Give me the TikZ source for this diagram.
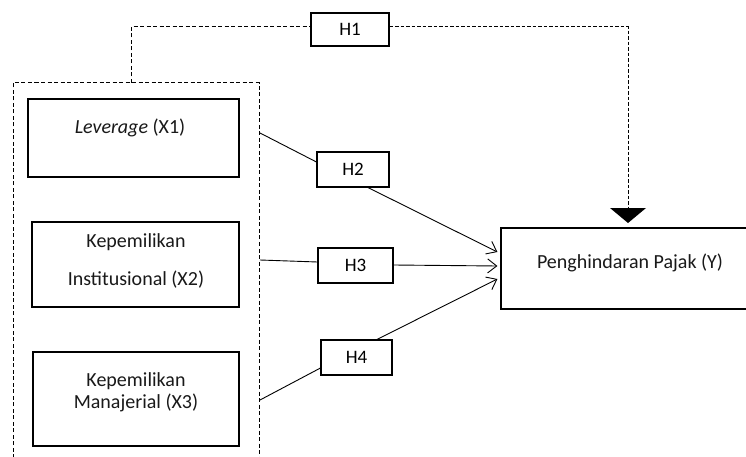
\documentclass[tikz,border=0pt]{standalone}
\usepackage{fontspec}
\setmainfont{Carlito}
\usetikzlibrary{arrows.meta,calc}
\begin{document}
\begin{tikzpicture}[x=1pt,y=-1pt,
  box/.style={draw,line width=1.2pt,rectangle,inner sep=0pt},
  hbox/.style={draw,line width=1.1pt,rectangle,inner sep=0pt,minimum height=34pt,font=\fontsize{19}{22}\selectfont},
  lbl/.style={font=\fontsize{20}{23}\selectfont,inner sep=0pt,text=black!90},
  conn/.style={line width=0.9pt},
  arr/.style={conn,-{Straight Barb[length=9pt,width=14pt,line width=0.9pt]}},
  dsh/.style={line width=1pt,dash pattern=on 4pt off 2.5pt},
  dshfine/.style={line width=1pt,dash pattern=on 3.5pt off 2pt}]
\clip (0,0) rectangle (746,457);
\fill[white] (0,0) rectangle (746,457);
% independent boxes
\node[box,minimum width=211pt,minimum height=78pt] (x1) at (133.5,138) {};
\node[lbl] (t1) at (130,128) {\textit{Leverage} (X1)};
\node[box,minimum width=207pt,minimum height=85pt] (x2) at (135.5,264.5) {};
\node[lbl] (t2a) at (136,242) {Kepemilikan};
\node[lbl] (t2b) at (136,280) {Institusional (X2)};
\node[box,minimum width=206pt,minimum height=94pt] (x3) at (136,399) {};
\node[lbl] (t3a) at (136,381) {Kepemilikan};
\node[lbl] (t3b) at (136,403) {Manajerial (X3)};
% dependent box
\node[box,minimum width=249pt,minimum height=81pt] (y) at (625.5,268.5) {};
\node[lbl] (ty) at (630,263) {Penghindaran Pajak (Y)};
% hypothesis boxes
\node[hbox,minimum width=78pt,minimum height=33pt] (h1) at (350,29.5) {H1};
\node[hbox,minimum width=72pt,minimum height=35pt] (h2) at (353,169.5) {H2};
\node[hbox,minimum width=75pt,minimum height=35pt] (h3) at (355.5,265.5) {H3};
\node[hbox,minimum width=71pt,minimum height=35pt] (h4) at (356.5,357.5) {H4};
% dashed group (open at bottom)
\coordinate (gbl) at (13,458);
\coordinate (gtl) at (13,83);
\coordinate (gtr) at (259,83);
\coordinate (gbr) at (259,458);
\draw[dsh] (gbl) -- (gtl) -- (gtr) -- (gbr);
\coordinate (gtop) at (131,83);
\coordinate (g1) at (260,133);
\coordinate (g2) at (260,260);
\coordinate (g3) at (260,400);
% H1 path
\coordinate (c1) at (131,27);
\coordinate (c2) at (628,27);
\coordinate (tip) at (628,223);
\draw[dsh] (gtop) -- (c1) -- (h1.west |- c1);
\draw[dshfine] (h1.east |- c2) -- (c2) -- (tip);
\fill (tip) -- ++(-18,-15) -- ++(36,0) -- cycle;
% H2..H4 paths
\draw[conn] (g1) -- ([yshift=7.5pt]h2.west);
\draw[arr] ([xshift=15pt]h2.south) -- ([yshift=16.5pt,xshift=-3pt]y.west);
\draw[conn] (g2) -- ([yshift=3.5pt]h3.west);
\draw[arr] ([yshift=0.5pt]h3.east) -- ([yshift=2.5pt,xshift=-3pt]y.west);
\draw[conn] (g3) -- ([yshift=-10.5pt]h4.west);
\draw[arr] ([xshift=20.5pt]h4.north) -- ([yshift=-10.5pt,xshift=-3pt]y.west);
\end{tikzpicture}
\end{document}
